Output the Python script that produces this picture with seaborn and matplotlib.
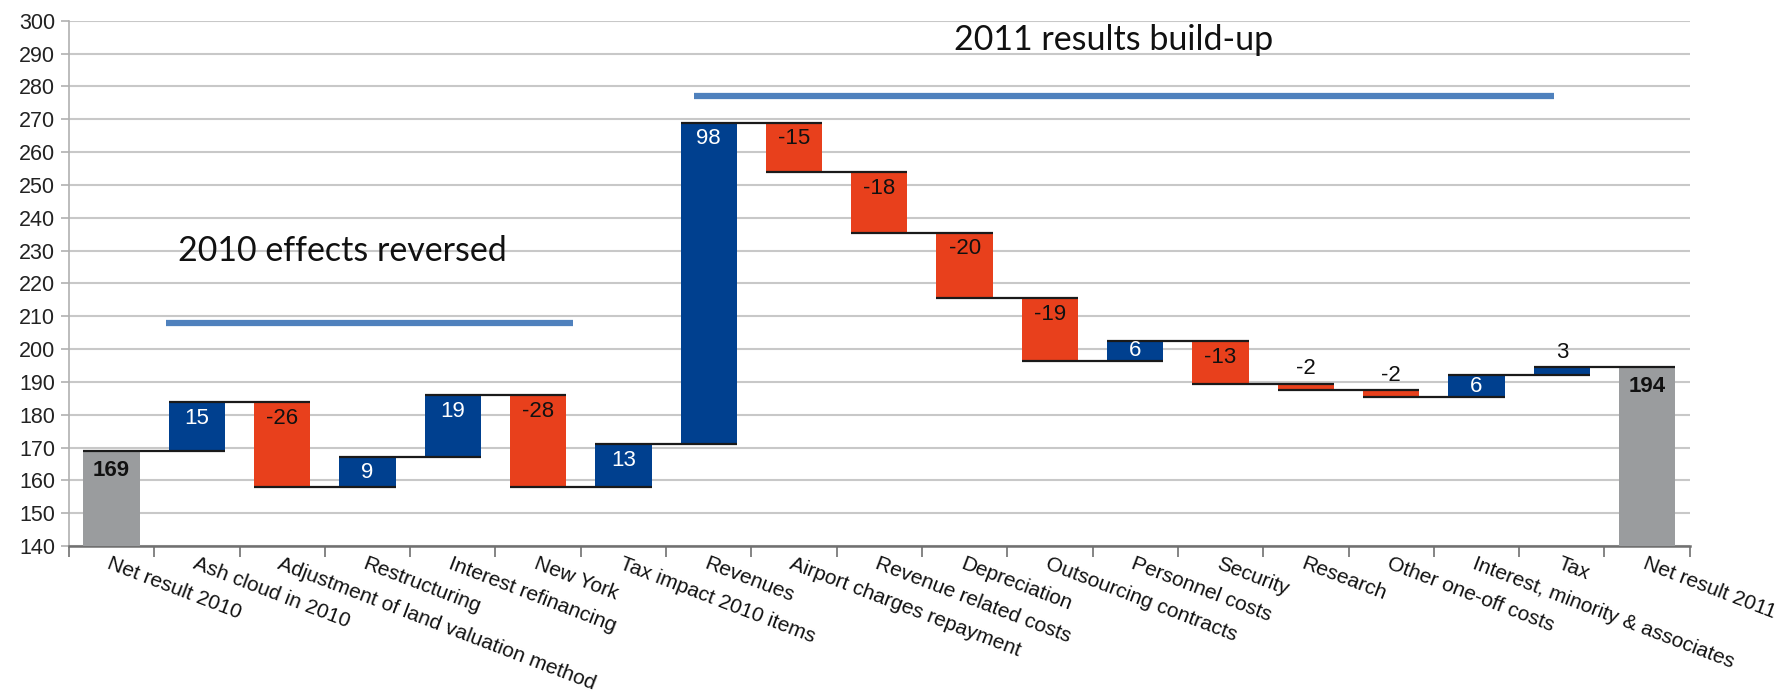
import numpy as np
import pandas as pd
import matplotlib
matplotlib.use("Agg")
import matplotlib.pyplot as plt
import seaborn as sns

categories = [
    "Net result 2010",
    "Ash cloud in 2010",
    "Adjustment of land valuation method",
    "Restructuring",
    "Interest refinancing",
    "New York",
    "Tax impact 2010 items",
    "Revenues",
    "Airport charges repayment",
    "Revenue related costs",
    "Depreciation",
    "Outsourcing contracts",
    "Personnel costs",
    "Security",
    "Research",
    "Other one-off costs",
    "Interest, minority & associates",
    "Tax",
    "Net result 2011",
]
start_value = 169
end_value = 194.5
# steps (labels are the rounded figures)
steps = [15, -26, 9, 19, -28, 13, 98, -15, -18.5, -20, -19, 6, -13, -2, -2, 6.5, 2.5]
bar_labels = ["169", "15", "-26", "9", "19", "-28", "13", "98", "-15", "-18",
              "-20", "-19", "6", "-13", "-2", "-2", "6", "3", "194"]

BLUE = "#00408F"
RED = "#E8401C"
GREY = "#9A9C9E"
NOTE_BLUE = "#4F81BD"

# ---- build waterfall table
after = start_value + np.cumsum(steps)
before = np.concatenate([[start_value], after[:-1]])
low = np.concatenate([[0], np.minimum(before, after), [0]])
high = np.concatenate([[start_value], np.maximum(before, after), [end_value]])
kind = ["total"] + ["up" if s > 0 else "down" for s in steps] + ["total"]
levels = np.concatenate([[start_value], after])

df = pd.DataFrame({
    "category": categories,
    "low": low,
    "high": high,
    "height": high - low,
    "kind": kind,
    "label": bar_labels,
})

sns.set_theme(style="white")
plt.rcParams["font.family"] = ["Liberation Sans", "DejaVu Sans"]

fig, ax = plt.subplots(figsize=(17.9, 6.93), dpi=100)
fig.subplots_adjust(left=0.0385, right=0.944, bottom=0.212, top=0.970)

bar_w = 0.66
sns.barplot(
    data=df,
    x="category",
    y="height",
    order=categories,
    bottom=df["low"].values,
    width=bar_w,
    errorbar=None,
    color=BLUE,
    linewidth=0,
    ax=ax,
    zorder=3,
)
colors = {"total": GREY, "up": BLUE, "down": RED}
for patch, k in zip(ax.patches, df["kind"]):
    patch.set_facecolor(colors[k])
    patch.set_edgecolor("none")

# connectors
n = len(categories)
xs = np.arange(n)
ax.hlines(levels, xs[:-1] - bar_w / 2, xs[1:] + bar_w / 2,
          color="#1a1a1a", lw=1.6, zorder=4)

# value labels
for i, row in df.iterrows():
    h = row["high"] - row["low"]
    if row["kind"] == "total":
        y, col, fw = row["high"] - 6, "#111111", "bold"
    elif h >= 12:
        y, col, fw = row["high"] - 5, ("white" if row["kind"] == "up" else "#111111"), "normal"
    elif h >= 5:
        y, col, fw = (row["high"] + row["low"]) / 2, ("white" if row["kind"] == "up" else "#111111"), "normal"
    else:
        y, col, fw = row["high"] + 4.5, "#111111", "normal"
    ax.text(i, y, row["label"], ha="center", va="center", fontsize=16,
            color=col, fontweight=fw, zorder=5)

# axes styling
ax.set_ylim(140, 300)
ax.set_xlim(-0.5, n - 0.5)
ax.set_yticks(np.arange(140, 301, 10))
ax.yaxis.grid(True, color="#C8C8C8", lw=1.5, zorder=0)
ax.set_axisbelow(True)
ax.set_xlabel("")
ax.set_ylabel("")
ax.set_xticks(xs)
ax.set_xticklabels(categories, rotation=-21, ha="left", va="top",
                   rotation_mode="anchor", fontsize=15, color="#111111")
ax.tick_params(axis="x", which="major", length=0, pad=6)
ax.set_xticks(np.arange(-0.5, n, 1), minor=True)
ax.tick_params(axis="x", which="minor", length=8, width=1.2,
               color="#707070", direction="out", bottom=True)
ax.tick_params(axis="y", length=6, width=1.2, color="#B0B0B0",
               labelsize=15.5, labelcolor="#222222", left=True, pad=4)
for s in ["top", "right"]:
    ax.spines[s].set_visible(False)
ax.spines["left"].set_color("#B0B0B0")
ax.spines["left"].set_linewidth(1.2)
ax.spines["bottom"].set_color("#707070")
ax.spines["bottom"].set_linewidth(1.8)

# section notes
ax.text(0.78, 230, "2010 effects reversed", fontsize=24.5, family="Lato",
        va="center", ha="left", color="#111111")
ax.hlines(208, 0.64, 5.41, color=NOTE_BLUE, lw=4.5, zorder=3)
ax.text(9.87, 294, "2011 results build-up", fontsize=24.5, family="Lato",
        va="center", ha="left", color="#111111")
ax.hlines(277, 6.83, 16.91, color=NOTE_BLUE, lw=4.5, zorder=3)

plt.savefig("out.png", dpi=100)
plt.close()
